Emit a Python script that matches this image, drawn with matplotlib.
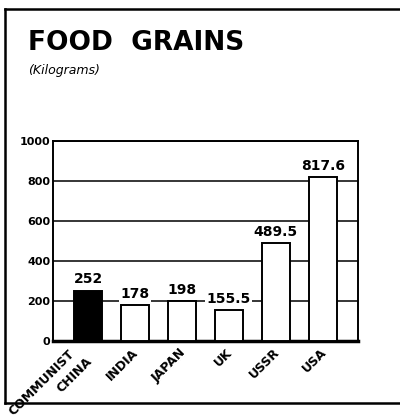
import matplotlib
matplotlib.use("Agg")
import matplotlib.pyplot as plt
from matplotlib.lines import Line2D

plt.rcParams['font.family'] = ['DejaVu Sans']

# data (kilograms of food grains)
countries = ["COMMUNIST CHINA", "INDIA", "JAPAN", "UK", "USSR", "USA"]
values = [252, 178, 198, 155.5, 489.5, 817.6]
value_labels = ["252", "178", "198", "155.5", "489.5", "817.6"]
bar_colors = ["black", "white", "white", "white", "white", "white"]
yticks = [0, 200, 400, 600, 800, 1000]

fig = plt.figure(figsize=(4.0, 4.19), dpi=100)
ax = fig.add_axes([0.1325, 0.1862, 0.7625, 0.4773])

x = list(range(len(countries)))
ax.bar(x, values, width=0.6, color=bar_colors, edgecolor="black", linewidth=1.4, zorder=3)

ax.set_xlim(-0.75, 5.75)
ax.set_ylim(0, 1000)
ax.set_yticks(yticks)
ax.set_yticklabels([str(t) for t in yticks], fontsize=8, fontweight="bold")
ax.tick_params(axis="y", length=0, pad=2)
ax.set_xticks([])
ax.yaxis.grid(True, color="black", linewidth=1.1, zorder=1)
ax.set_axisbelow(True)
for s in ["left", "top", "right"]:
    ax.spines[s].set_linewidth(1.4)
ax.spines["bottom"].set_linewidth(2.5)

# value labels above the bars
for i, v in enumerate(values):
    ax.annotate(value_labels[i], xy=(i, v), xytext=(0, 3), textcoords="offset points",
                ha="center", va="bottom", fontsize=10, fontweight="bold", zorder=4,
                bbox=dict(boxstyle="square,pad=0.1", fc="white", ec="none"))

# rotated country labels
for i, name in enumerate(countries):
    if i == 0:
        first, second = name.split(" ")
        ax.annotate(second, xy=(i, 0), xycoords=("data", "axes fraction"),
                    xytext=(1.5, -13), textcoords="offset points",
                    ha="right", va="center", rotation=45, rotation_mode="anchor",
                    fontsize=9, fontweight="bold", annotation_clip=False)
        ax.annotate(first, xy=(i, 0), xycoords=("data", "axes fraction"),
                    xytext=(-11.5, -8), textcoords="offset points",
                    ha="right", va="center", rotation=45, rotation_mode="anchor",
                    fontsize=9, fontweight="bold", annotation_clip=False)
    else:
        ax.annotate(name, xy=(i, 0), xycoords=("data", "axes fraction"),
                    xytext=(1, -7), textcoords="offset points",
                    ha="right", va="center", rotation=45, rotation_mode="anchor",
                    fontsize=9, fontweight="bold", annotation_clip=False)

fig.text(0.07, 0.881, "FOOD  GRAINS", fontsize=19, fontweight="bold", va="baseline")
fig.text(0.07, 0.823, "(Kilograms)", fontsize=9, fontstyle="italic", va="baseline")

# frame around the figure (left, top, bottom)
lw = 1.8
fig.add_artist(Line2D([0.0125, 0.0125], [0.038, 0.979], color="black", linewidth=lw))
fig.add_artist(Line2D([0.0125, 1.0], [0.979, 0.979], color="black", linewidth=lw))
fig.add_artist(Line2D([0.0125, 1.0], [0.038, 0.038], color="black", linewidth=lw))

fig.savefig("out.png", dpi=100)
